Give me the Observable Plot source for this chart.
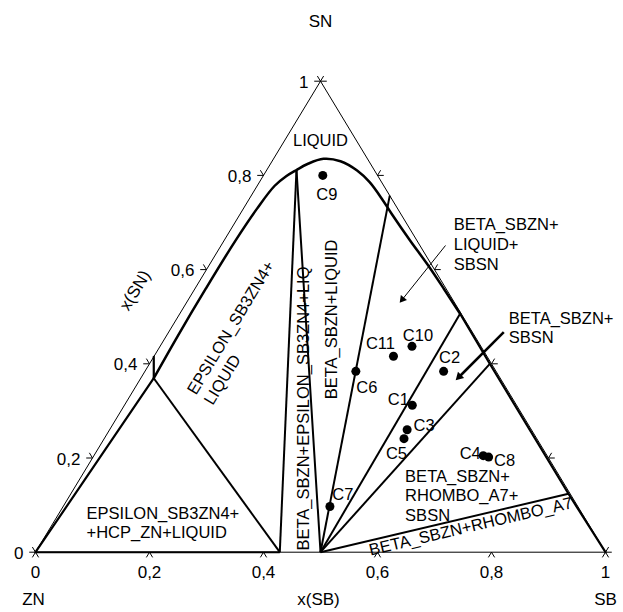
<!DOCTYPE html>
<html>
<head>
<meta charset="utf-8">
<script src="https://cdn.jsdelivr.net/npm/d3@7"></script>
<script src="https://cdn.jsdelivr.net/npm/@observablehq/plot@0.6"></script>
<style>
  body { margin: 0; background: #fff; }
  #chart svg { display: block; }
</style>
</head>
<body>
<div id="chart"></div>
<script>
// Zn–Sb–Sn isothermal section; compositions are mole fractions x(SB), x(SN).

// Alloy samples
const sampleNames = ["C1", "C2", "C3", "C4", "C5", "C6", "C7", "C8", "C9", "C10", "C11"];
const sampleSB    = [0.505, 0.524, 0.522, 0.683, 0.526, 0.370, 0.468, 0.694, 0.104, 0.442, 0.420];
const sampleSN    = [0.312, 0.384, 0.260, 0.205, 0.241, 0.384, 0.097, 0.202, 0.800, 0.437, 0.416];

// Axis ticks
const tickValues = [0, 0.2, 0.4, 0.6, 0.8, 1];
const tickLabels = ["0", "0,2", "0,4", "0,6", "0,8", "1"];

// Liquid phase boundary (curved part, from the Zn-side liquid corner to the SbSn corner)
const liquidusSN = [0.3694, 0.46, 0.56, 0.66, 0.73, 0.7775, 0.7987, 0.8115, 0.8242, 0.8352, 0.8301, 0.8104, 0.7856, 0.7468, 0.7185, 0.6618, 0.6123, 0.56, 0.5062];
const liquidusSB = [0.0228, 0.020, 0.019, 0.020, 0.024, 0.0305, 0.0410, 0.0521, 0.0651, 0.0877, 0.120, 0.159, 0.1934, 0.2362, 0.2655, 0.3262, 0.3807, 0.436, 0.4918];

// Zn-rich liquid edge: Zn corner -> liquid corner -> Zn–Sn side
const znLiquidSN = [0, 0.3694, 0.415];
const znLiquidSB = [0, 0.0228, 0];

// SbSn phase boundary along the Sb–Sn side
const sbsnSN = [0.5062, 0.4, 0.124, 0];
const sbsnSB = [0.4918, 0.597, 0.873, 1];

// Tie lines (start and end compositions)
const tieFromSB = [0.5, 0.5, 0.5, 0.5, 0.5, 3 / 7, 3 / 7, 0];
const tieFromSN = [0, 0, 0, 0, 0, 0, 0, 0];
const tieToSB   = [0.0521, 0.243, 0.4918, 0.597, 0.873, 0.0521, 0.0228, 3 / 7];
const tieToSN   = [0.8115, 0.757, 0.5062, 0.4, 0.124, 0.8115, 0.3694, 0];

// Phase field names
const regionNames = [
  "LIQUID",
  "EPSILON_SB3ZN4+\nLIQUID",
  "BETA_SBZN+EPSILON_SB3ZN4+LIQ",
  "BETA_SBZN+LIQUID",
  "BETA_SBZN+\nLIQUID+\nSBSN",
  "BETA_SBZN+\nSBSN",
  "BETA_SBZN+\nRHOMBO_A7+\nSBSN",
  "BETA_SBZN+RHOMBO_A7",
  "EPSILON_SB3ZN4+\n+HCP_ZN+LIQUID"
];

// ---------------------------------------------------------------- layout
const W = 623, H = 612;
const M = {top: 80.7, right: 18, bottom: 60.3, left: 35};
const PW = W - M.left - M.right, PH = H - M.top - M.bottom;
const FONT = "'Liberation Sans', Arial, Helvetica, sans-serif";

// ternary (x(SB), x(SN)) -> frame coordinates (SN apex above the middle of the base)
const tern = (sb, sn) => ({x: sb + sn / 2, y: sn});
// move a frame point by a screen offset in pixels
const shift = (p, dx, dy) => ({x: p.x + dx / PW, y: p.y - dy / PH});
// screen angle (degrees, clockwise positive) of a segment
const screenAngle = (a, b) => Math.atan2(-(b.y - a.y) * PH, (b.x - a.x) * PW) * 180 / Math.PI;

const edgeAngle = screenAngle(tern(0, 0), tern(0, 1)); // left side, about -59°

const sampleLabelOffset = {
  C1: [-14, -6.5], C2: [6, -15], C3: [17, -5], C4: [-13, -3], C5: [-7.5, 13.5], C6: [11, 15],
  C7: [13, -13], C8: [16, 2.5], C9: [4, 18], C10: [6, -12], C11: [-13, -13.5]
};

// anchor composition, text anchor and rotation of each phase-field name
const tieRhombo = [tern(tieFromSB[4], tieFromSN[4]), tern(tieToSB[4], tieToSN[4])];
const regionLayout = [
  {at: [0.0622, 0.8756], anchor: "middle", rotate: 0},
  {at: [0.1227, 0.3282], anchor: "start", rotate: edgeAngle},
  {at: [0.4661, 0.0036], anchor: "start", rotate: -90},
  {at: [0.2705, 0.4941], anchor: "middle", rotate: -90},
  {at: [0.4062, 0.6554], anchor: "start", rotate: 0},
  {at: [0.5915, 0.4777], anchor: "start", rotate: 0},
  {at: [0.5878, 0.1213], anchor: "start", rotate: 0},
  {at: [0.7348, 0.0567], anchor: "middle", rotate: screenAngle(tieRhombo[0], tieRhombo[1])},
  {at: [0.0577, 0.0637], anchor: "start", rotate: 0}
];

// pointer arrows for the two narrow fields: [tail, tip] compositions, head height in px, width
const pointerArrows = [
  {tail: [0.3937, 0.6512], tip: [0.3732, 0.5238], head: 12, width: 1},
  {tail: [0.588, 0.4671], tip: [0.5523, 0.3575], head: 15, width: 2.5}
];

// ---------------------------------------------------------------- derived tables
const samples = sampleNames.map((name, i) => {
  const p = tern(sampleSB[i], sampleSN[i]);
  const [dx, dy] = sampleLabelOffset[name];
  return {name, ...p, label: shift(p, dx, dy)};
});

const liquidus = liquidusSN.map((sn, i) => tern(liquidusSB[i], sn));
const znLiquid = znLiquidSN.map((sn, i) => tern(znLiquidSB[i], sn));
const sbsnEdge = sbsnSN.map((sn, i) => tern(sbsnSB[i], sn));
const ties = tieFromSB.map((_, i) => [tern(tieFromSB[i], tieFromSN[i]), tern(tieToSB[i], tieToSN[i])]);

const triangle = [tern(0, 0), tern(1, 0), tern(0, 1), tern(0, 0)];

// ternary tick marks: two short strokes outward, parallel to the other two sides
const d = 0.011;
const tickSegs = [];
for (const t of tickValues) {
  const b = tern(t, 0);
  tickSegs.push([b, tern(t, -d)], [b, tern(t + d, -d)]);
  const l = tern(0, t);
  tickSegs.push([l, tern(-d, t)], [l, tern(-d, t + d)]);
  const r = tern(1 - t, t);
  tickSegs.push([r, tern(1 - t + d, t)], [r, tern(1 - t, t + d)]);
}

const regions = regionNames.map((text, i) => {
  const L = regionLayout[i];
  return {text, ...tern(L.at[0], L.at[1]), anchor: L.anchor, rotate: L.rotate};
});

// arrow shafts and filled heads (triangle symbol, apex on the tip)
const arrows = pointerArrows.map(a => {
  const tail = tern(...a.tail), tip = tern(...a.tip);
  const ux = (tip.x - tail.x) * PW, uy = -(tip.y - tail.y) * PH;
  const len = Math.hypot(ux, uy);
  const c = shift(tip, -ux / len * a.head * 2 / 3, -uy / len * a.head * 2 / 3);
  return {
    tail, tip, c, width: a.width,
    r: a.head / (3 * Math.sqrt(Math.PI / (3 * Math.sqrt(3)))),
    rotate: Math.atan2(ux, -uy) * 180 / Math.PI
  };
});

const axisTitles = [
  {text: "SN", ...shift(tern(0, 1), 0, -61)},
  {text: "ZN", ...shift(tern(0, 0), -2, 46)},
  {text: "SB", ...shift(tern(1, 0), 0, 46)},
  {text: "x(SB)", ...shift(tern(0.5, 0), -2, 46)}
];
const snTitle = [{text: "x(SN)", ...shift(tern(0, 0.553), -59, -2)}];

// ---------------------------------------------------------------- plot
const textBase = {fontFamily: FONT, fontSize: 16.5, fill: "black", lineHeight: 1.2};

const chart = Plot.plot({
  width: W,
  height: H,
  marginTop: M.top,
  marginRight: M.right,
  marginBottom: M.bottom,
  marginLeft: M.left,
  x: {domain: [0, 1], axis: null},
  y: {domain: [0, 1], axis: null},
  style: {fontFamily: FONT, background: "white", color: "black"},
  marks: [
    // frame triangle and ticks
    Plot.line(triangle, {x: "x", y: "y", stroke: "black", strokeWidth: 1}),
    Plot.link(tickSegs, {x1: s => s[0].x, y1: s => s[0].y, x2: s => s[1].x, y2: s => s[1].y, stroke: "black", strokeWidth: 1}),

    // tie lines
    Plot.link(ties, {x1: s => s[0].x, y1: s => s[0].y, x2: s => s[1].x, y2: s => s[1].y, stroke: "black", strokeWidth: 2}),

    // phase boundaries
    Plot.line(znLiquid, {x: "x", y: "y", stroke: "black", strokeWidth: 2.2}),
    Plot.line(liquidus, {x: "x", y: "y", curve: "catmull-rom", stroke: "black", strokeWidth: 2.5}),
    Plot.line(sbsnEdge, {x: "x", y: "y", stroke: "black", strokeWidth: 2.2}),

    // pointer arrows
    Plot.link(arrows, {x1: a => a.tail.x, y1: a => a.tail.y, x2: a => a.c.x, y2: a => a.c.y, stroke: "black", strokeWidth: a => a.width}),
    Plot.dot(arrows, {x: a => a.c.x, y: a => a.c.y, r: "r", rotate: "rotate", symbol: "triangle", fill: "black", stroke: null}),

    // samples
    Plot.dot(samples, {x: "x", y: "y", r: 4.5, fill: "black", stroke: null}),
    Plot.text(samples, {x: s => s.label.x, y: s => s.label.y, text: "name", ...textBase}),

    // phase field names
    ...regions.map(r => Plot.text([r], {x: "x", y: "y", text: "text", textAnchor: r.anchor, lineAnchor: "middle", rotate: r.rotate, ...textBase})),

    // tick labels: x(SB) along the base, x(SN) along the left side
    Plot.text(tickValues, {x: t => tern(t, 0).x, y: t => tern(t, 0).y, text: (t, i) => tickLabels[i], dy: 19, ...textBase, fontSize: 17}),
    Plot.text(tickValues, {x: t => tern(0, t).x, y: t => tern(0, t).y, text: (t, i) => tickLabels[i], dx: -12, textAnchor: "end", ...textBase, fontSize: 17}),

    // corner and axis titles
    Plot.text(axisTitles, {x: "x", y: "y", text: "text", ...textBase, fontSize: 17}),
    Plot.text(snTitle, {x: "x", y: "y", text: "text", rotate: edgeAngle, ...textBase, fontSize: 17})
  ]
});

document.getElementById("chart").appendChild(chart);
</script>
</body>
</html>
